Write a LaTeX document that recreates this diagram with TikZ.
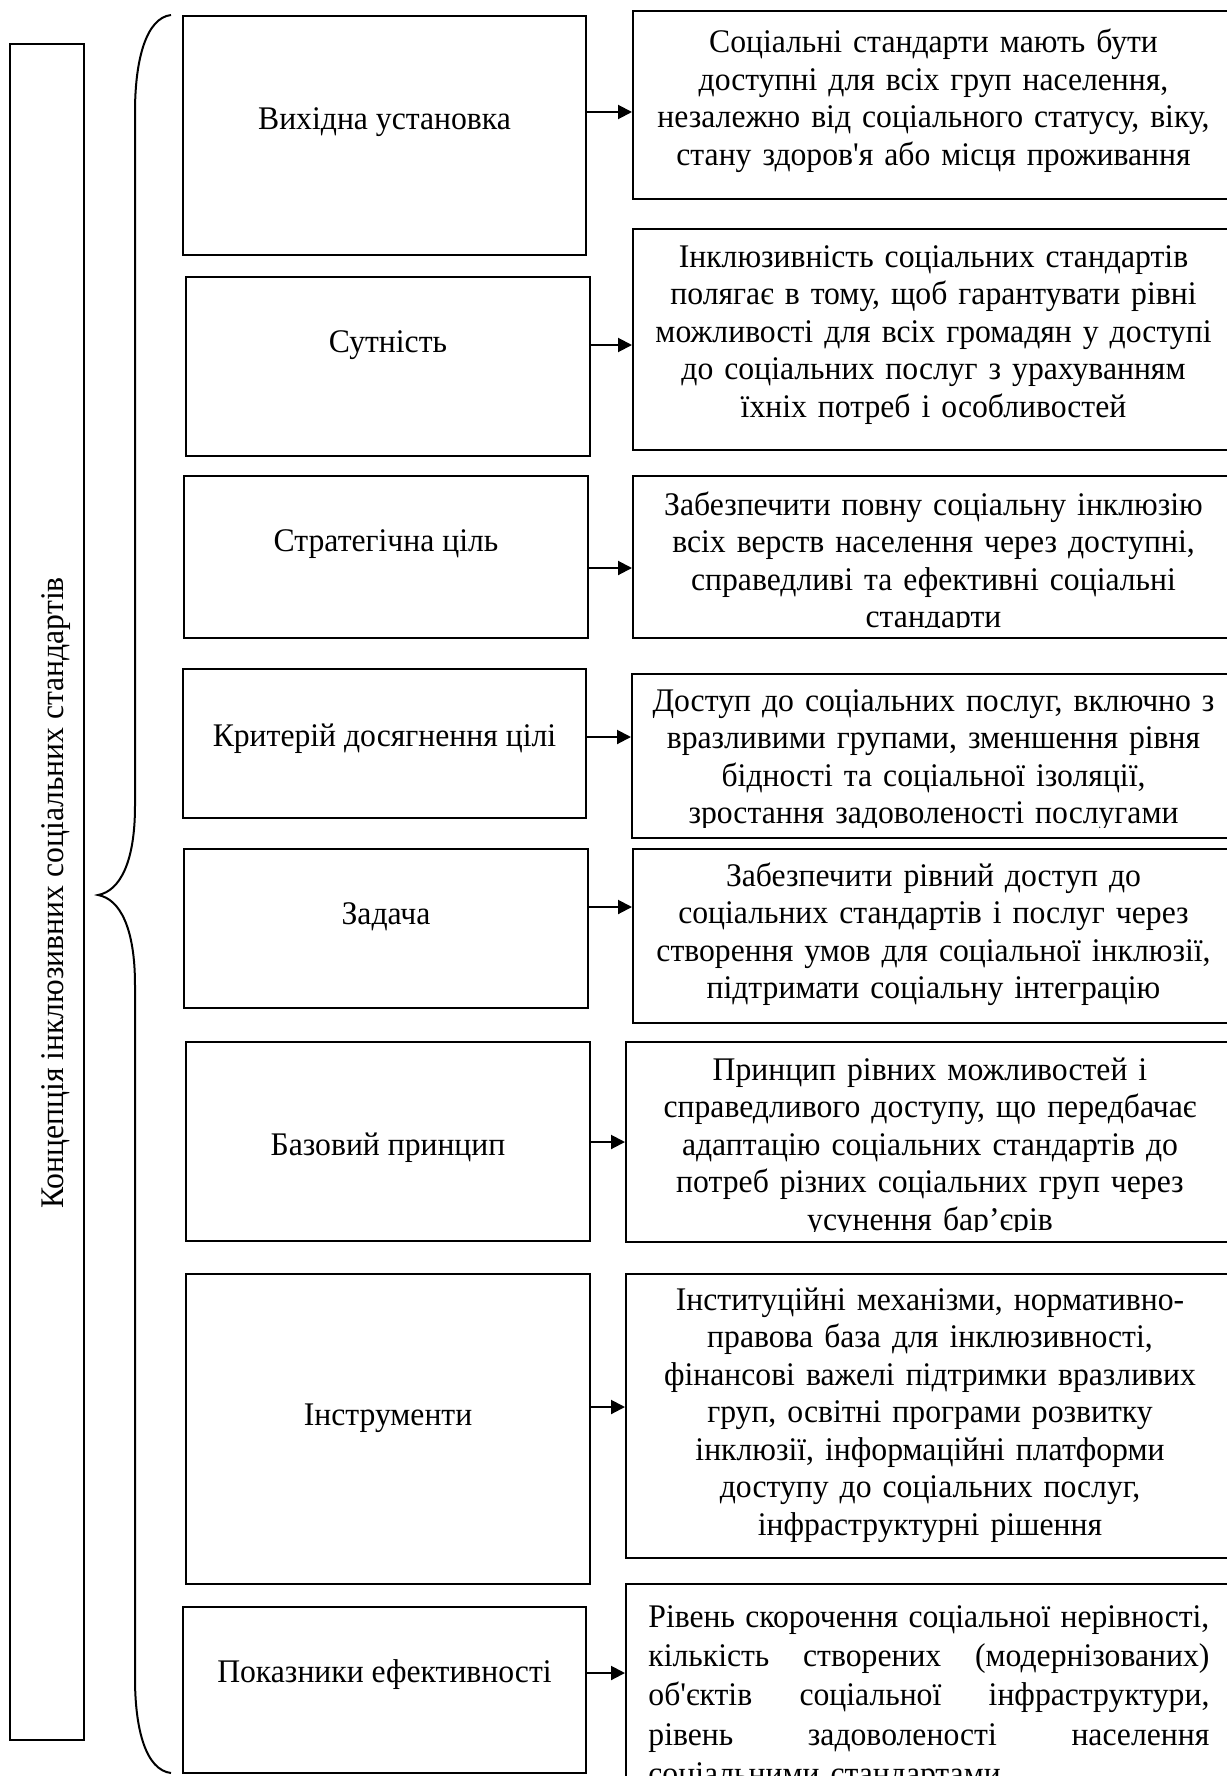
\documentclass[tikz,border=0pt]{standalone}
\usepackage{fontspec}
\newfontfamily\tnr[FakeStretch=0.96]{Liberation Serif}
\usetikzlibrary{arrows.meta,fit}
\newcommand{\jline}[1]{\leavevmode\hbox to 280.5pt{#1}}
\begin{document}
\begin{tikzpicture}[x=0.5pt,y=-0.5pt,
  box/.style={draw, line width=1pt, inner sep=0pt},
  lbl/.style={font=\tnr\fontsize{16.5pt}{18.75pt}\selectfont, inner sep=0pt, anchor=base},
  rtext/.style={font=\tnr\fontsize{16.5pt}{18.75pt}\selectfont, inner sep=0pt, text width=292pt, align=center, anchor=base},
  arr/.style={line width=1pt, -{Triangle[length=7pt,width=7pt]}},
  brace/.style={line width=1pt}
]
\path[fill=white] (0,0) rectangle (1226,1776);
\useasboundingbox (0,0) rectangle (1226,1776);

% left title box
\node[box, fit={(10,44) (84,1740)}] (T) {};
\node[lbl, rotate=90] (Tt) at (63,893) {Концепція інклюзивних соціальних стандартів};

% brace
\draw[brace] (171,15) .. controls (146,18) and (135,60) .. (135,112) -- (135,806)
  .. controls (135,862) and (120,891) .. (98,895)
  .. controls (120,899) and (135,928) .. (135,985) -- (135,1678)
  .. controls (135,1730) and (146,1770) .. (171,1773);

% left boxes
\node[box, fit={(183,16) (586,255)}] (L1) {};
\node[box, fit={(186,277) (590,456)}] (L2) {};
\node[box, fit={(184,476) (588,638)}] (L3) {};
\node[box, fit={(183,669) (586,818)}] (L4) {};
\node[box, fit={(184,849) (588,1008)}] (L5) {};
\node[box, fit={(186,1042) (590,1241)}] (L6) {};
\node[box, fit={(186,1274) (590,1584)}] (L7) {};
\node[box, fit={(183,1607) (586,1773)}] (L8) {};

\node[lbl] (L1t) at (384.5,130) {Вихідна установка};
\node[lbl] (L2t) at (388,352) {Сутність};
\node[lbl] (L3t) at (386,551) {Стратегічна ціль};
\node[lbl] (L4t) at (384.5,746) {Критерій досягнення цілі};
\node[lbl] (L5t) at (386,924) {Задача};
\node[lbl] (L6t) at (388,1155) {Базовий принцип};
\node[lbl] (L7t) at (388,1425) {Інструменти};
\node[lbl] (L8t) at (384.5,1682) {Показники ефективності};

% right boxes
\node[box, fit={(633,11) (1234,199)}] (R1) {};
\node[box, fit={(633,229) (1234,450)}] (R2) {};
\node[box, fit={(633,476) (1234,638)}] (R3) {};
\node[box, fit={(632,674) (1234,838)}] (R4) {};
\node[box, fit={(633,849) (1234,1023)}] (R5) {};
\node[box, fit={(626,1042) (1234,1242)}] (R6) {};
\node[box, fit={(626,1274) (1234,1558)}] (R7) {};
\node[box, fit={(626,1584) (1234,1800)}] (R8) {};

\begin{scope}
\clip (633,11) rectangle (1234,188);
\node[rtext] (R1t) at (933.5,53) {Соціальні стандарти мають бути\\ доступні для всіх груп населення,\\ незалежно від соціального статусу, віку,\\ стану здоров'я або місця проживання};
\end{scope}
\begin{scope}
\clip (633,229) rectangle (1234,439);
\node[rtext] (R2t) at (933.5,267) {Інклюзивність соціальних стандартів\\ полягає в тому, щоб гарантувати рівні\\ можливості для всіх громадян у доступі\\ до соціальних послуг з урахуванням\\ їхніх потреб і особливостей};
\end{scope}
\begin{scope}
\clip (633,476) rectangle (1234,627);
\node[rtext] (R3t) at (933.5,515) {Забезпечити повну соціальну інклюзію\\ всіх верств населення через доступні,\\ справедливі та ефективні соціальні\\ стандарти};
\end{scope}
\begin{scope}
\clip (632,674) rectangle (1234,827);
\node[rtext] (R4t) at (933.5,711) {Доступ до соціальних послуг, включно з\\ вразливими групами, зменшення рівня\\ бідності та соціальної ізоляції,\\ зростання задоволеності послугами};
\end{scope}
\begin{scope}
\clip (633,849) rectangle (1234,1012);
\node[rtext] (R5t) at (933.5,886) {Забезпечити рівний доступ до\\ соціальних стандартів і послуг через\\ створення умов для соціальної інклюзії,\\ підтримати соціальну інтеграцію};
\end{scope}
\begin{scope}
\clip (626,1042) rectangle (1234,1231);
\node[rtext] (R6t) at (930,1080) {Принцип рівних можливостей і\\ справедливого доступу, що передбачає\\ адаптацію соціальних стандартів до\\ потреб різних соціальних груп через\\ усунення бар’єрів};
\end{scope}
\begin{scope}
\clip (626,1274) rectangle (1234,1547);
\node[rtext] (R7t) at (930,1310) {Інституційні механізми, нормативно-\\ правова база для інклюзивності,\\ фінансові важелі підтримки вразливих\\ груп, освітні програми розвитку\\ інклюзії, інформаційні платформи\\ доступу до соціальних послуг,\\ інфраструктурні рішення};
\end{scope}
\node[font=\tnr\fontsize{16.5pt}{19.7pt}\selectfont, inner sep=0pt, text width=280.5pt, align=left, anchor=base west] (R8t) at (648,1627)
  {\jline{Рівень\hfill скорочення\hfill соціальної\hfill нерівності,}\\
   \jline{кількість\hfill створених\hfill (модернізованих)}\\
   \jline{об'єктів\hfill соціальної\hfill інфраструктури,}\\
   \jline{рівень\hfill задоволеності\hfill населення}\\
   соціальними стандартами};

% arrows
\draw[arr] (L1.east |- 0,112) -- (R1.west |- 0,112);
\draw[arr] (L2.east |- 0,345) -- (R2.west |- 0,345);
\draw[arr] (L3.east |- 0,568) -- (R3.west |- 0,568);
\draw[arr] (L4.east |- 0,737) -- (R4.west |- 0,737);
\draw[arr] (L5.east |- 0,907) -- (R5.west |- 0,907);
\draw[arr] (L6.east |- 0,1142) -- (R6.west |- 0,1142);
\draw[arr] (L7.east |- 0,1407) -- (R7.west |- 0,1407);
\draw[arr] (L8.east |- 0,1673) -- (R8.west |- 0,1673);
\end{tikzpicture}
\end{document}
